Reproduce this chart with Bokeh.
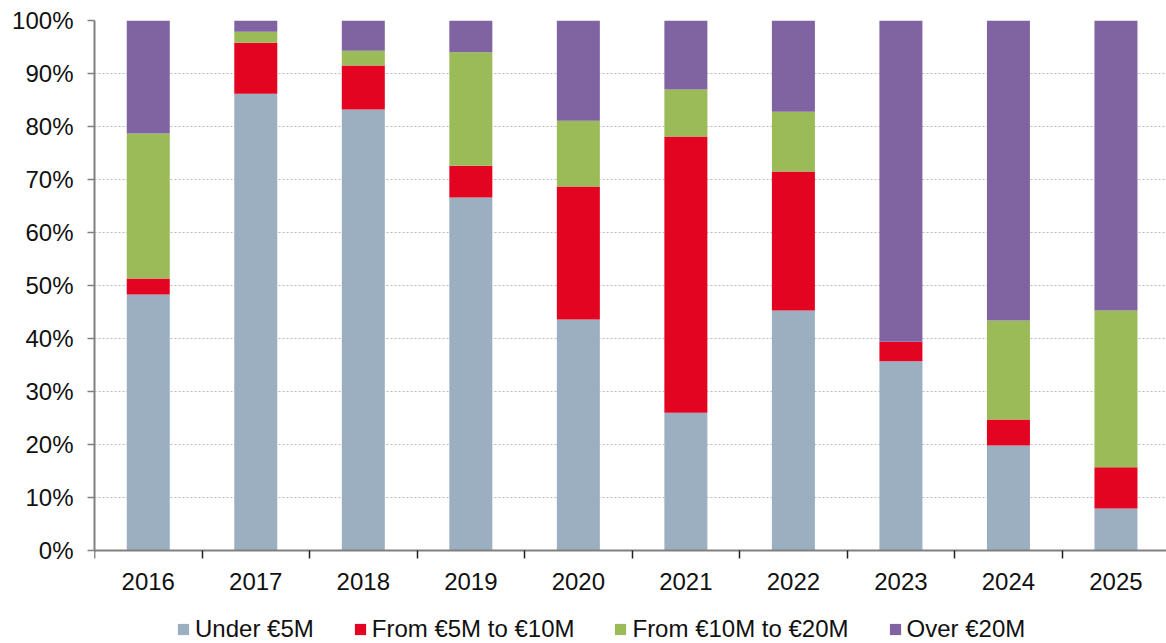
from bokeh.plotting import figure
from bokeh.models import (ColumnDataSource, Range1d, FixedTicker, PrintfTickFormatter,
                          Legend, LegendItem)
from bokeh.embed import file_html
from bokeh.resources import INLINE

years = ["2016", "2017", "2018", "2019", "2020", "2021", "2022", "2023", "2024", "2025"]
under_5m = [48.3, 86.2, 83.2, 66.6, 43.6, 26.0, 45.3, 35.7, 19.8, 7.9]
from_5_to_10 = [3.0, 9.6, 8.3, 6.0, 25.1, 52.1, 26.2, 3.7, 4.9, 7.8]
from_10_to_20 = [27.4, 2.1, 2.8, 21.4, 12.4, 8.9, 11.3, 0.0, 18.7, 29.6]
over_20m = [21.3, 2.1, 5.7, 6.0, 18.9, 13.0, 17.2, 60.6, 56.6, 54.7]

series_names = ["Under €5M", "From €5M to €10M", "From €10M to €20M", "Over €20M"]
colors = ["#9BAFC0", "#E30421", "#9BBB59", "#8064A2"]
series = [under_5m, from_5_to_10, from_10_to_20, over_20m]

FONT = "Liberation Sans"
FS = "24px"

p = figure(width=1166, height=643, output_backend="svg", toolbar_location=None,
           x_range=Range1d(-0.5, 9.47), y_range=Range1d(-17.55, 100),
           min_border_left=94, min_border_right=0, min_border_top=20, min_border_bottom=0)
p.outline_line_color = None

xs = list(range(len(years)))
bottoms = [0.0] * len(years)
items = []
for name, vals, col in zip(series_names, series, colors):
    tops = [b + v for b, v in zip(bottoms, vals)]
    src = ColumnDataSource(dict(x=xs, bottom=bottoms, top=tops))
    r = p.vbar(x="x", width=0.4, bottom="bottom", top="top", source=src,
               fill_color=col, line_color=None)
    items.append(LegendItem(label=name, renderers=[r]))
    bottoms = tops

# x axis (pinned at y = 0)
p.xaxis.fixed_location = 0
p.xaxis.ticker = FixedTicker(ticks=xs, minor_ticks=[i - 0.5 for i in range(len(years) + 1)])
p.xaxis.major_label_overrides = {i: y for i, y in enumerate(years)}
p.xaxis.major_tick_out = 0
p.xaxis.major_tick_in = 0
p.xaxis.minor_tick_out = 8
p.xaxis.minor_tick_in = 0
p.xaxis.minor_tick_line_color = "#222222"
p.xaxis.minor_tick_line_width = 1.5
p.xaxis.axis_line_color = "#808080"
p.xaxis.axis_line_width = 2
p.xaxis.major_label_text_font = FONT
p.xaxis.major_label_text_font_size = FS
p.xaxis.major_label_text_color = "#111111"
p.xaxis.major_label_standoff = 15

# y axis
p.yaxis.bounds = (0, 100)
p.yaxis.ticker = FixedTicker(ticks=list(range(0, 101, 10)))
p.yaxis.formatter = PrintfTickFormatter(format="%d%%")
p.yaxis.minor_tick_line_color = None
p.yaxis.major_tick_out = 7
p.yaxis.major_tick_in = 0
p.yaxis.major_tick_line_color = "#808080"
p.yaxis.major_tick_line_width = 1.5
p.yaxis.axis_line_color = "#808080"
p.yaxis.axis_line_width = 2
p.yaxis.major_label_text_font = FONT
p.yaxis.major_label_text_font_size = FS
p.yaxis.major_label_text_color = "#111111"
p.yaxis.major_label_standoff = 14

p.xgrid.grid_line_color = None
p.ygrid.ticker = FixedTicker(ticks=list(range(10, 101, 10)))
p.ygrid.grid_line_color = "#BBBBBB"
p.ygrid.grid_line_dash = "2 2"
p.ygrid.grid_line_width = 1

legend = Legend(items=items, orientation="horizontal", location=(82, 0),
                label_text_font=FONT, label_text_font_size=FS,
                label_text_color="#111111", glyph_width=14, glyph_height=14,
                label_height=24, spacing=39, label_standoff=5, padding=0, margin=0,
                border_line_color=None, background_fill_alpha=0)
p.add_layout(legend, "center")

open("out.html", "w").write(file_html(p, INLINE))
